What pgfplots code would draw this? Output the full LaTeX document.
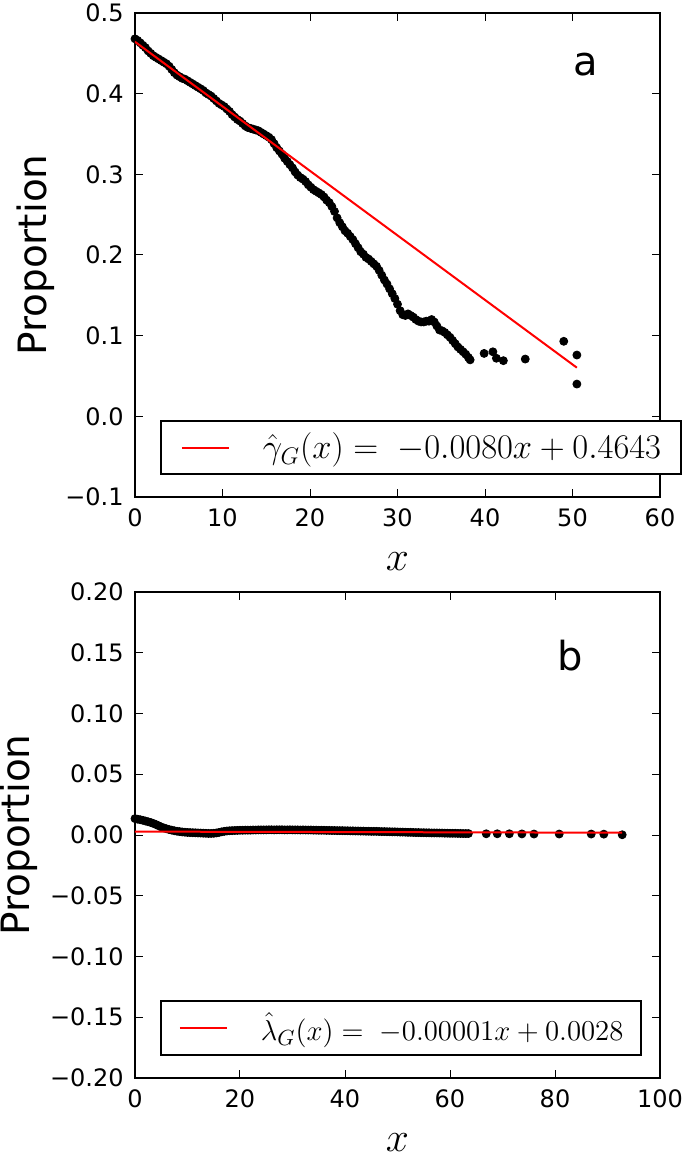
\documentclass[border=0pt]{standalone}
\usepackage[no-math]{fontspec}
\setmainfont{DejaVu Sans}
\usepackage{pgfplots}
\pgfplotsset{compat=1.18}
\pgfplotstableread{
x y
0 0.468
0.3 0.466
0.6 0.463
0.9 0.460
1.2 0.457
1.5 0.453
1.8 0.450
2.1 0.447
2.4 0.445
2.7 0.443
3.0 0.441
3.3 0.439
3.6 0.437
3.9 0.434
4.2 0.430
4.5 0.426
4.8 0.423
5.1 0.421
5.4 0.419
5.7 0.418
6.0 0.416
6.3 0.414
6.6 0.412
6.9 0.410
7.2 0.408
7.5 0.406
7.8 0.404
8.1 0.401
8.4 0.399
8.7 0.397
9.0 0.394
9.3 0.391
9.6 0.388
9.9 0.386
10.2 0.384
10.5 0.381
10.8 0.378
11.1 0.374
11.4 0.371
11.7 0.368
12.0 0.366
12.3 0.363
12.6 0.360
12.9 0.358
13.2 0.357
13.5 0.356
13.8 0.355
14.1 0.354
14.4 0.352
14.7 0.350
15.0 0.348
15.3 0.346
15.6 0.343
15.9 0.338
16.2 0.333
16.5 0.329
16.8 0.325
17.1 0.320
17.4 0.316
17.7 0.312
18.0 0.308
18.3 0.303
18.6 0.299
18.9 0.296
19.2 0.294
19.5 0.291
19.8 0.287
20.1 0.284
20.4 0.281
20.7 0.279
21.0 0.277
21.3 0.275
21.6 0.272
21.9 0.268
22.2 0.265
22.5 0.260
22.8 0.254
23.1 0.246
23.4 0.240
23.7 0.235
24.0 0.230
24.3 0.227
24.6 0.223
24.9 0.219
25.2 0.214
25.5 0.209
25.8 0.204
26.1 0.201
26.4 0.197
26.7 0.195
27.0 0.192
27.3 0.189
27.6 0.186
27.9 0.181
28.2 0.175
28.5 0.169
28.8 0.164
29.1 0.158
29.4 0.152
29.7 0.146
30.0 0.139
30.3 0.131
30.6 0.126
30.9 0.125
31.2 0.127
31.5 0.125
31.8 0.123
32.1 0.120
32.4 0.118
32.7 0.117
33.0 0.117
33.3 0.118
33.6 0.118
33.9 0.120
34.2 0.117
34.5 0.112
34.8 0.107
35.1 0.106
35.4 0.104
35.7 0.101
36.0 0.098
36.3 0.094
36.6 0.090
36.9 0.086
37.2 0.083
37.5 0.080
37.8 0.077
38.1 0.073
38.3 0.070
39.9 0.078
40.9 0.080
41.3 0.072
42.1 0.069
44.6 0.071
49.0 0.093
50.5 0.076
50.5 0.040
}\dataA
\pgfplotstableread{
x y
0 0.0135
0.5 0.0130
1.0 0.0126
1.5 0.0121
2.0 0.0115
2.5 0.0109
3.0 0.0103
3.5 0.0095
4.0 0.0086
4.5 0.0076
5.0 0.0066
5.5 0.0058
6.0 0.0051
6.5 0.0045
7.0 0.0040
7.5 0.0035
8.0 0.0031
8.5 0.0028
9.0 0.0025
9.5 0.0023
10.0 0.0021
10.5 0.0020
11.0 0.0019
11.5 0.0018
12.0 0.0017
12.5 0.0016
13.0 0.0015
13.5 0.0014
14.0 0.0013
14.5 0.0013
15.0 0.0014
15.5 0.0017
16.0 0.0021
16.5 0.0026
17.0 0.0030
17.5 0.0033
18.0 0.0035
18.5 0.0036
19.0 0.0037
19.5 0.0038
20.0 0.0039
20.5 0.0039
21.0 0.0040
21.5 0.0040
22.0 0.0040
22.5 0.0041
23.0 0.0041
23.5 0.0042
24.0 0.0042
24.5 0.0042
25.0 0.0042
25.5 0.0043
26.0 0.0043
26.5 0.0042
27.0 0.0043
27.5 0.0043
28.0 0.0043
28.5 0.0042
29.0 0.0042
29.5 0.0043
30.0 0.0042
30.5 0.0042
31.0 0.0042
31.5 0.0041
32.0 0.0042
32.5 0.0041
33.0 0.0041
33.5 0.0041
34.0 0.0040
34.5 0.0040
35.0 0.0039
35.5 0.0039
36.0 0.0039
36.5 0.0038
37.0 0.0038
37.5 0.0037
38.0 0.0037
38.5 0.0036
39.0 0.0036
39.5 0.0036
40.0 0.0035
40.5 0.0035
41.0 0.0034
41.5 0.0034
42.0 0.0033
42.5 0.0033
43.0 0.0032
43.5 0.0032
44.0 0.0031
44.5 0.0031
45.0 0.0030
45.5 0.0030
46.0 0.0030
46.5 0.0029
47.0 0.0028
47.5 0.0028
48.0 0.0027
48.5 0.0027
49.0 0.0026
49.5 0.0026
50.0 0.0025
50.5 0.0024
51.0 0.0024
51.5 0.0023
52.0 0.0022
52.5 0.0022
53.0 0.0021
53.5 0.0020
54.0 0.0020
54.5 0.0019
55.0 0.0019
55.5 0.0018
56.0 0.0018
56.5 0.0017
57.0 0.0017
57.5 0.0017
58.0 0.0016
58.5 0.0016
59.0 0.0015
59.5 0.0015
60.0 0.0014
60.5 0.0014
61.0 0.0014
61.5 0.0013
62.0 0.0013
62.5 0.0012
63.0 0.0012
63.5 0.0012
66.9 0.0010
69.0 0.0010
71.3 0.0010
73.7 0.0009
76.0 0.0008
80.8 0.0008
86.9 0.0008
89.3 0.0007
92.8 0.0002
}\dataB
\pgfplotsset{
  myaxis/.style={
    scale only axis, width=262.5pt,
    clip mode=individual,
    axis line style={line width=1pt},
    tick align=inside, xtick pos=both, ytick pos=both,
    major tick length=4pt,
    tick style={line width=0.5pt, black},
    tick label style={font=\fontsize{12}{14}\selectfont},
    yticklabel style={anchor=east, inner sep=0pt, xshift=-5.5pt},
    xticklabel style={anchor=north, inner sep=0pt, yshift=-5.5pt},
    ylabel style={font=\fontsize{19.5}{22}\selectfont, anchor=base},
    xlabel style={font=\fontsize{19.5}{22}\selectfont, anchor=base},
    legend style={anchor=south west, draw=black, line width=1pt,
      inner xsep=10pt, inner ysep=6pt,
      font=\fontsize{16.5}{19}\selectfont, nodes={inner sep=0pt},
      /tikz/every odd column/.append style={column sep=16.5pt}},
    legend cell align=left,
    legend image code/.code={\draw[red, line width=1pt] (0pt,0pt) -- (23.5pt,0pt);},
  },
  dots/.style={only marks, mark=*, mark size=2pt, black, forget plot},
}
\begin{document}
\begin{tikzpicture}
\useasboundingbox (-67.5pt,-328.5pt) rectangle (275pt,248.5pt);
\begin{axis}[myaxis,
  at={(0,0)}, anchor=south west, height=242pt,
  xmin=0, xmax=60, ymin=-0.1, ymax=0.5,
  xtick={0,10,20,30,40,50,60},
  xticklabels={0,10,20,30,40,50,60},
  ytick={-0.1,0,0.1,0.2,0.3,0.4,0.5},
  yticklabels={−0.1,0.0,0.1,0.2,0.3,0.4,0.5},
  xlabel={$x$}, ylabel={Proportion},
  xlabel style={at={(axis description cs:0.5,-0.1509)}},
  ylabel style={at={(axis description cs:-0.1688,0.5)}},
  legend style={at={(0.0476,0.0455)}},
]
\addplot[dots] table {\dataA};
\addplot[red, line width=1pt] coordinates {(0,0.4643) (50.5,0.0603)};
\addlegendentry{$\hat{\gamma}_G(x) =\; -0.0080x + 0.4643$}
\node[font=\fontsize{20}{24}\selectfont] at (rel axis cs:0.859,0.894) {a};
\end{axis}
\begin{axis}[myaxis,
  at={(0,-290.5pt)}, anchor=south west, height=243pt,
  xmin=0, xmax=100, ymin=-0.2, ymax=0.2,
  xtick={0,20,40,60,80,100},
  xticklabels={0,20,40,60,80,100},
  ytick={-0.2,-0.15,-0.1,-0.05,0,0.05,0.1,0.15,0.2},
  yticklabels={−0.20,−0.15,−0.10,−0.05,0.00,0.05,0.10,0.15,0.20},
  xlabel={$x$}, ylabel={Proportion},
  xlabel style={at={(axis description cs:0.5,-0.1503)}},
  ylabel style={at={(axis description cs:-0.2,0.5)}},
  legend style={at={(0.0476,0.045)}, font=\fontsize{15.8}{19}\selectfont, inner xsep=9pt},
]
\addplot[dots] table {\dataB};
\addplot[red, line width=1pt] coordinates {(0,0.0028) (92.8,0.0019)};
\addlegendentry{$\hat{\lambda}_G(x) =\; -0.00001x + 0.0028$}
\node[font=\fontsize{20}{24}\selectfont] at (rel axis cs:0.829,0.870) {b};
\end{axis}
\end{tikzpicture}
\end{document}
